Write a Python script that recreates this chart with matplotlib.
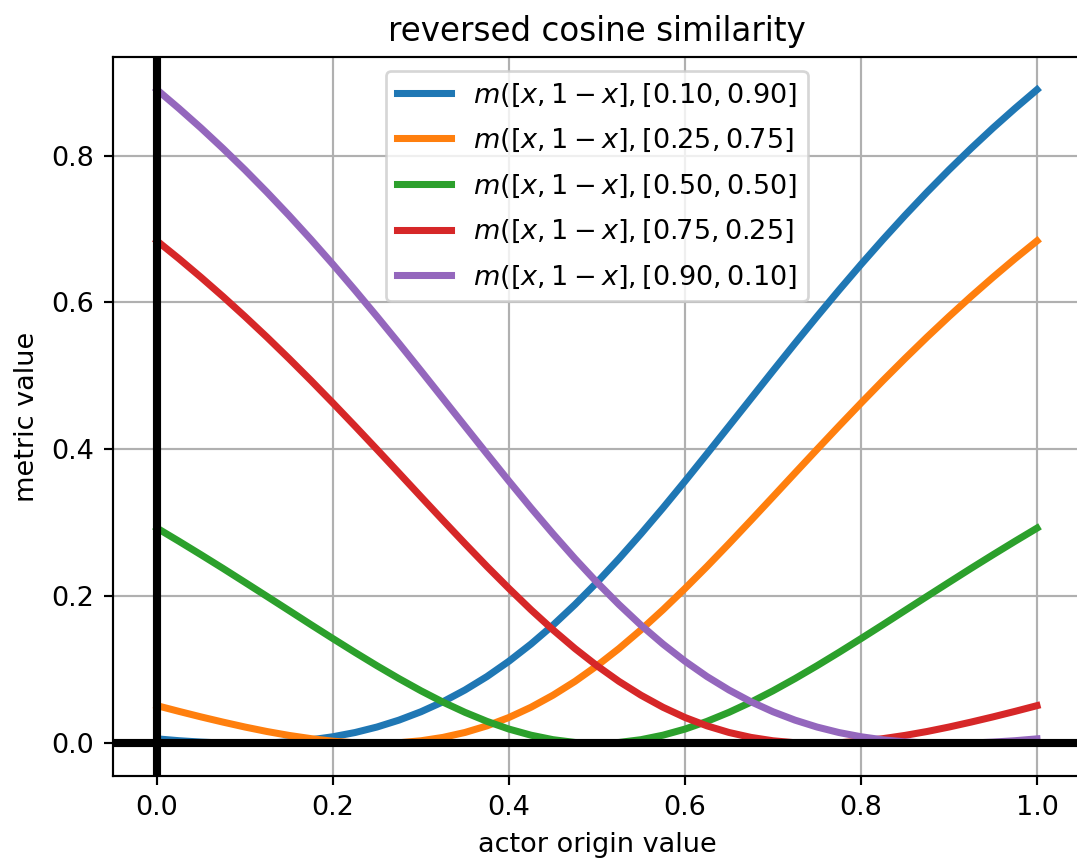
import matplotlib
matplotlib.use("Agg")
from matplotlib import pyplot as plt

x = [0.000, 0.025, 0.050, 0.075, 0.100, 0.125, 0.150, 0.175, 0.200, 0.225,
     0.250, 0.275, 0.300, 0.325, 0.350, 0.375, 0.400, 0.425, 0.450, 0.475,
     0.500, 0.525, 0.550, 0.575, 0.600, 0.625, 0.650, 0.675, 0.700, 0.725,
     0.750, 0.775, 0.800, 0.825, 0.850, 0.875, 0.900, 0.925, 0.950, 0.975,
     1.000]

m_10_90 = [0.0061, 0.0036, 0.0017, 0.0004, 0.0000, 0.0005, 0.0020, 0.0048, 0.0090, 0.0147,
           0.0222, 0.0316, 0.0430, 0.0566, 0.0726, 0.0909, 0.1118, 0.1351, 0.1608, 0.1889,
           0.2191, 0.2513, 0.2852, 0.3204, 0.3568, 0.3940, 0.4316, 0.4693, 0.5070, 0.5443,
           0.5809, 0.6168, 0.6518, 0.6857, 0.7185, 0.7501, 0.7805, 0.8096, 0.8375, 0.8641,
           0.8896]
m_25_75 = [0.0513, 0.0435, 0.0360, 0.0289, 0.0222, 0.0161, 0.0108, 0.0064, 0.0029, 0.0008,
           0.0000, 0.0008, 0.0035, 0.0081, 0.0148, 0.0238, 0.0352, 0.0491, 0.0655, 0.0843,
           0.1056, 0.1290, 0.1545, 0.1818, 0.2107, 0.2407, 0.2718, 0.3035, 0.3356, 0.3679,
           0.4000, 0.4318, 0.4631, 0.4938, 0.5237, 0.5528, 0.5809, 0.6081, 0.6343, 0.6596,
           0.6838]
m_50_50 = [0.2929, 0.2750, 0.2567, 0.2381, 0.2191, 0.2000, 0.1808, 0.1615, 0.1425, 0.1238,
           0.1056, 0.0881, 0.0715, 0.0561, 0.0422, 0.0299, 0.0194, 0.0111, 0.0050, 0.0012,
           0.0000, 0.0012, 0.0050, 0.0111, 0.0194, 0.0299, 0.0422, 0.0561, 0.0715, 0.0881,
           0.1056, 0.1238, 0.1425, 0.1615, 0.1808, 0.2000, 0.2191, 0.2381, 0.2567, 0.2750,
           0.2929]
# the other two pairs are mirror images
m_75_25 = m_25_75[::-1]
m_90_10 = m_10_90[::-1]

series = [m_10_90, m_25_75, m_50_50, m_75_25, m_90_10]
labels = [r"$m([x, 1-x], [0.10, 0.90]$",
          r"$m([x, 1-x], [0.25, 0.75]$",
          r"$m([x, 1-x], [0.50, 0.50]$",
          r"$m([x, 1-x], [0.75, 0.25]$",
          r"$m([x, 1-x], [0.90, 0.10]$"]

fig = plt.figure(figsize=(1077 / 195, 859 / 195), dpi=195)
ax = fig.add_axes([0.1049, 0.0966, 0.8988, 0.837])

for y, lab in zip(series, labels):
    ax.plot(x, y, linewidth=2.6, label=lab)

ax.axhline(0, color="black", linewidth=3)
ax.axvline(0, color="black", linewidth=3)

ax.grid(True)
ax.set_title("reversed cosine similarity")
ax.set_xlabel("actor origin value")
ax.set_ylabel("metric value")
ax.legend(loc="upper center", labelspacing=0.68)

fig.savefig("out.png", dpi=195)
